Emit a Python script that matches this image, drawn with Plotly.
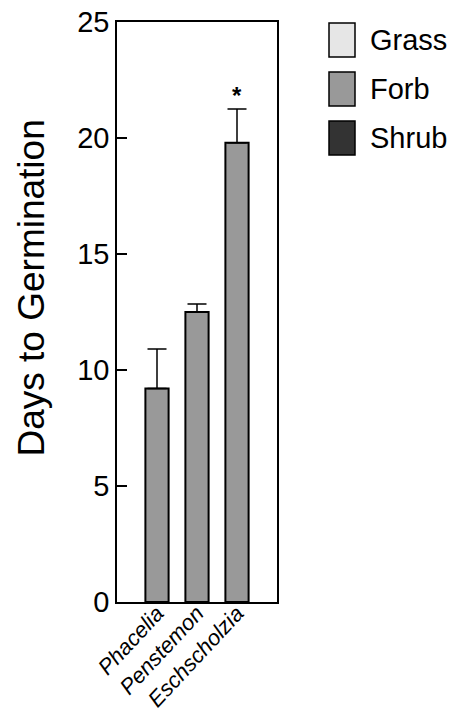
import plotly.graph_objects as go

# ---- data ----
species = ["Phacelia", "Penstemon", "Eschscholzia"]
days_to_germination = [9.2, 12.5, 19.8]
std_error = [1.7, 0.35, 1.45]
significant = [False, False, True]

legend_groups = ["Grass", "Forb", "Shrub"]
legend_colors = ["#e6e6e6", "#999999", "#333333"]
bar_color = "#999999"

y_ticks = [0, 5, 10, 15, 20, 25]

FONT = "Liberation Sans, Arial, Helvetica, sans-serif"

fig = go.Figure()
fig.add_trace(go.Bar(
    x=species,
    y=days_to_germination,
    width=0.58,
    marker=dict(color=bar_color, line=dict(color="black", width=2)),
    error_y=dict(type="data", array=std_error, arrayminus=[0] * len(std_error),
                 symmetric=False, color="black", thickness=1.5, width=9.5),
    showlegend=False,
))

# significance markers
for sp, v, e, sig in zip(species, days_to_germination, std_error, significant):
    if sig:
        fig.add_annotation(x=sp, y=v + e, text="<b>*</b>", showarrow=False,
                           yanchor="bottom", yshift=-2,
                           font=dict(family=FONT, size=24, color="black"))

# y-axis title
fig.add_annotation(xref="paper", yref="paper", x=(31 - 117) / 160, y=(602 - 288.5) / 580,
                   text="Days to Germination", textangle=-90, showarrow=False,
                   xanchor="center", yanchor="middle",
                   font=dict(family=FONT, size=37, color="black"))

# custom legend
legend_top_px = [23, 72, 121]
for name, col, top in zip(legend_groups, legend_colors, legend_top_px):
    y0 = (602 - (top + 34)) / 580
    y1 = (602 - top) / 580
    fig.add_shape(type="rect", xref="paper", yref="paper",
                  x0=(329 - 117) / 160, x1=(355 - 117) / 160, y0=y0, y1=y1,
                  fillcolor=col, line=dict(color="black", width=1.5))
    fig.add_annotation(xref="paper", yref="paper", x=(368 - 117) / 160, y=(y0 + y1) / 2,
                       text=name, showarrow=False, xanchor="left", yanchor="middle",
                       font=dict(family=FONT, size=29, color="black"))

fig.update_layout(
    width=456, height=711,
    margin=dict(l=117, r=179, t=22, b=109, autoexpand=False),
    plot_bgcolor="white", paper_bgcolor="white",
    font=dict(family=FONT, color="black"),
    bargap=0.4,
)
fig.update_xaxes(
    range=[-1, 3], showline=True, linecolor="black", linewidth=1.5, mirror=True,
    ticks="", showgrid=False, tickangle=-47, ticklabelstandoff=-12,
    tickfont=dict(family=FONT, size=22, style="italic", color="black"),
)
fig.update_yaxes(
    range=[0, 25], tickvals=y_ticks, showline=True, linecolor="black", linewidth=1.5,
    mirror=True, ticks="inside", ticklen=10, tickwidth=1.5, tickcolor="black",
    showgrid=False, zeroline=False,
    tickfont=dict(family=FONT, size=29, color="black"),
)

fig.write_html("out.html")
